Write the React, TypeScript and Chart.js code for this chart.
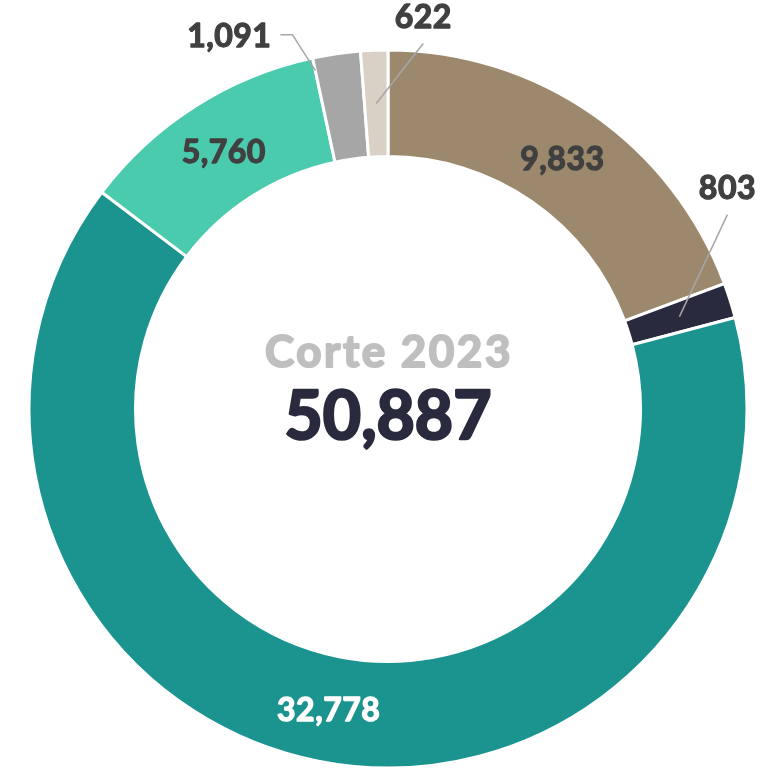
import React, { useEffect, useRef } from "react";
import { Chart, registerables } from "chart.js";

Chart.register(...registerables);

const categories = ["A", "B", "C", "D", "E", "F"];
const values = [9833, 803, 32778, 5760, 1091, 622];
const colors = ["#9C896D", "#292A3D", "#1B9490", "#4BCBAE", "#A6A6A6", "#D9D0C6"];
const centerTitle = "Corte 2023";
const FONT = "Lato, 'Open Sans', sans-serif";

const fmt = (v: number) => v.toLocaleString("en-US");

function heavyText(ctx: CanvasRenderingContext2D, text: string, x: number, y: number, color: string, weight: number) {
  ctx.fillStyle = color;
  ctx.strokeStyle = color;
  ctx.lineWidth = weight;
  ctx.lineJoin = "round";
  ctx.fillText(text, x, y);
  ctx.strokeText(text, x, y);
}

const labelPlugin = {
  id: "labels",
  afterDatasetsDraw(chart: any) {
    const ctx = chart.ctx as CanvasRenderingContext2D;
    const meta = chart.getDatasetMeta(0);
    const arcs = meta.data as any[];
    const total = values.reduce((a, b) => a + b, 0);
    ctx.save();
    ctx.textAlign = "center";
    ctx.textBaseline = "middle";
    const labelFont = `bold 32px ${FONT}`;

    arcs.forEach((arc, i) => {
      const p = arc.getProps(["x", "y", "startAngle", "endAngle", "innerRadius", "outerRadius"], true);
      const mid = (p.startAngle + p.endAngle) / 2;
      const rMid = (p.innerRadius + p.outerRadius) / 2;
      const text = fmt(values[i]);
      const frac = values[i] / total;
      ctx.font = labelFont;
      (ctx as any).letterSpacing = "0.5px";
      if (frac > 0.05) {
        heavyText(ctx, text, p.x + rMid * Math.cos(mid), p.y + rMid * Math.sin(mid) + 2, i === 2 ? "#FFFFFF" : "#404040", 1.3);
      } else {
        ctx.strokeStyle = "#A6A6A6";
        ctx.lineWidth = 1.5;
        if (i === 4) {
          const a = p.startAngle;
          const x0 = p.x + 346 * Math.cos(a);
          const y0 = p.y + 346 * Math.sin(a);
          const x1 = x0 - 23;
          const y1 = y0 - 36;
          ctx.beginPath();
          ctx.moveTo(x0, y0);
          ctx.lineTo(x1, y1);
          ctx.lineTo(x1 - 12, y1);
          ctx.stroke();
          ctx.textAlign = "right";
          heavyText(ctx, text, x1 - 21, y1 + 2, "#404040", 1.3);
          ctx.textAlign = "center";
        } else {
          const x0 = p.x + rMid * Math.cos(mid);
          const y0 = p.y + rMid * Math.sin(mid);
          let x1: number, y1: number;
          if (i === 5) {
            x1 = x0 + 47;
            y1 = y0 - 60;
          } else {
            x1 = x0 + 48;
            y1 = y0 - 102;
          }
          ctx.beginPath();
          ctx.moveTo(x0, y0);
          ctx.lineTo(x1, y1);
          ctx.stroke();
          heavyText(ctx, text, x1, y1 - 26, "#404040", 1.3);
        }
      }
    });

    const c = arcs[0].getProps(["x", "y"], true);
    ctx.font = `bold 44px ${FONT}`;
    (ctx as any).letterSpacing = "2.5px";
    heavyText(ctx, centerTitle, c.x + 1, c.y - 56, "#BFBFBF", 2);
    ctx.font = `bold 66px ${FONT}`;
    (ctx as any).letterSpacing = "0px";
    heavyText(ctx, fmt(total), c.x, c.y + 9, "#292A3D", 2.5);
    ctx.restore();
  },
};

export default function App() {
  const ref = useRef<HTMLCanvasElement>(null);
  useEffect(() => {
    if (!ref.current) return;
    const chart = new Chart(ref.current, {
      type: "doughnut",
      data: {
        labels: categories,
        datasets: [
          {
            data: values,
            backgroundColor: colors,
            borderColor: "#FFFFFF",
            borderWidth: 3,
          },
        ],
      },
      options: {
        responsive: false,
        animation: false,
        radius: 359,
        cutout: "70.33%",
        layout: { padding: { top: 50, left: 2, right: 0, bottom: 0 } },
        plugins: {
          legend: { display: false },
          tooltip: { enabled: false },
        },
      } as any,
      plugins: [labelPlugin],
    });
    return () => chart.destroy();
  }, []);
  return (
    <div style={{ position: "fixed", left: 0, top: 0, width: 774, height: 768, background: "#fff" }}>
      <canvas ref={ref} width={774} height={768} />
    </div>
  );
}
